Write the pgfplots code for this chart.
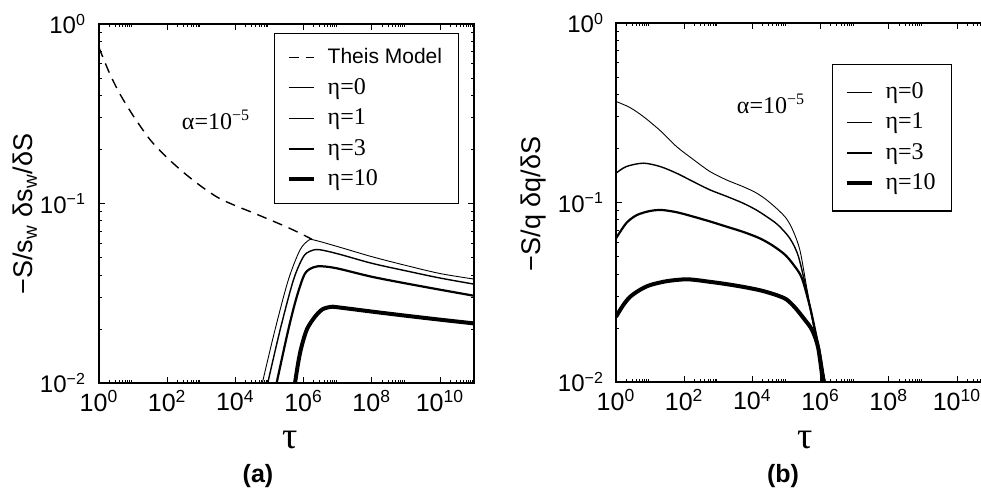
\documentclass[border=0pt]{standalone}
\usepackage{fontspec}
\setmainfont{Liberation Sans}
\newfontfamily\serif{Liberation Serif}
\usepackage{pgfplots}
\pgfplotsset{compat=1.18}

\tikzset{
  th/.style={black, line width=0.7pt, dash pattern=on 5pt off 3.5pt, smooth},
  e0/.style={black, line width=0.45pt, smooth},
  e1/.style={black, line width=0.7pt, smooth},
  e3/.style={black, line width=1.1pt, smooth},
  e10/.style={black, line width=2pt, smooth},
}
\newcommand{\etaent}[1]{\serif\fontsize{12}{13}\selectfont η=#1}

\begin{document}
\begin{tikzpicture}
% ---------- panel (a)
\begin{axis}[
    xmode=log, ymode=log,
    scale only axis, width=187.5pt, height=179.5pt,
    at={(49.5pt,55.5pt)}, anchor=south west,
    xmin=1, xmax=1e11, ymin=0.01, ymax=1,
    xtick={1,1e2,1e4,1e6,1e8,1e10},
    xticklabels={10\textsuperscript{0},10\textsuperscript{2},10\textsuperscript{4},
      10\textsuperscript{6},10\textsuperscript{8},10\textsuperscript{10}},
    minor xtick={2,3,4,5,6,7,8,9,200,300,400,500,600,700,800,900,
      2e4,3e4,4e4,5e4,6e4,7e4,8e4,9e4,2e6,3e6,4e6,5e6,6e6,7e6,8e6,9e6,
      2e8,3e8,4e8,5e8,6e8,7e8,8e8,9e8,2e10,3e10,4e10,5e10,6e10,7e10,8e10,9e10},
    ytick={0.01,0.1,1},
    yticklabels={10\textsuperscript{−2},10\textsuperscript{−1},10\textsuperscript{0}},
    minor ytick={0.02,0.03,0.04,0.05,0.06,0.07,0.08,0.09,0.2,0.3,0.4,0.5,0.6,0.7,0.8,0.9},
    tick style={black, line width=0.4pt},
    major tick length=3pt, minor tick length=1.5pt,
    axis line style={line width=0.6pt},
    ticklabel style={font=\fontsize{12}{14}\selectfont},
    xticklabel style={font=\fontsize{12.5}{14}\selectfont},
    yticklabel style={xshift=-3pt},
    legend cell align=left,
    legend image code/.code={\draw[#1] (0pt,0pt) -- (12.5pt,0pt);},
    legend style={font=\fontsize{10.5}{12}\selectfont, draw=black, line width=0.6pt,
      inner xsep=6pt, inner ysep=5.5pt, row sep=1.8pt, column sep=4pt,
      at={(0.467,0.975)}, anchor=north west},
  ]
  \addplot[th] coordinates {
    (1,0.738) (1.995,0.537) (3.981,0.412) (10,0.309) (31.62,0.2265)
    (100,0.1799) (316.2,0.1479) (1000,0.1245) (3162,0.1076) (10000,0.0973)
    (31620,0.0891) (100000,0.0813) (316200,0.0741) (1e6,0.0668) (1.778e6,0.0631)
  };
  \addlegendentry{Theis Model}
  \addplot[e0] coordinates {
    (50120,0.00851) (61660,0.01) (144500,0.01968) (354800,0.03733)
    (776200,0.05483) (1.380e6,0.06223) (1.995e6,0.06266) (1e7,0.05754)
    (1e8,0.05058) (1e9,0.04519) (1e10,0.04074) (1e11,0.03793)
  };
  \addlegendentry{\etaent{0}}
  \addplot[e1] coordinates {
    (74130,0.00851) (89130,0.01) (204200,0.01968) (501200,0.03733)
    (977200,0.05035) (1.585e6,0.05433) (2.818e6,0.05534) (1e7,0.05248)
    (1e8,0.04645) (1e9,0.04217) (1e10,0.03846) (1e11,0.03556)
  };
  \addlegendentry{\etaent{1}}
  \addplot[e3] coordinates {
    (131800,0.00832) (162200,0.01) (354800,0.01968) (631000,0.0302)
    (1.096e6,0.04064) (1.995e6,0.04416) (3.548e6,0.04467) (1e7,0.04345)
    (1e8,0.03908) (1e9,0.03589) (1e10,0.03311) (1e11,0.03062)
  };
  \addlegendentry{\etaent{3}}
  \addplot[e10] coordinates {
    (512900,0.00871) (562300,0.01) (707900,0.01318) (871000,0.01592)
    (1.259e6,0.01995) (2.138e6,0.02333) (3.548e6,0.0257) (6.310e6,0.02655)
    (1e7,0.02642) (1e8,0.025) (1e9,0.02371) (1e10,0.02254) (1e11,0.02148)
  };
  \addlegendentry{\etaent{10}}
\end{axis}
% ---------- panel (b)
\begin{axis}[
    xmode=log, ymode=log,
    scale only axis, width=187.5pt, height=179.5pt,
    at={(308pt,56pt)}, anchor=south west,
    xmin=1, xmax=1e11, ymin=0.01, ymax=1,
    xtick={1,1e2,1e4,1e6,1e8,1e10},
    xticklabels={10\textsuperscript{0},10\textsuperscript{2},10\textsuperscript{4},
      10\textsuperscript{6},10\textsuperscript{8},10\textsuperscript{10}},
    minor xtick={2,3,4,5,6,7,8,9,200,300,400,500,600,700,800,900,
      2e4,3e4,4e4,5e4,6e4,7e4,8e4,9e4,2e6,3e6,4e6,5e6,6e6,7e6,8e6,9e6,
      2e8,3e8,4e8,5e8,6e8,7e8,8e8,9e8,2e10,3e10,4e10,5e10,6e10,7e10,8e10,9e10},
    ytick={0.01,0.1,1},
    yticklabels={10\textsuperscript{−2},10\textsuperscript{−1},10\textsuperscript{0}},
    minor ytick={0.02,0.03,0.04,0.05,0.06,0.07,0.08,0.09,0.2,0.3,0.4,0.5,0.6,0.7,0.8,0.9},
    tick style={black, line width=0.4pt},
    major tick length=3pt, minor tick length=1.5pt,
    axis line style={line width=0.6pt},
    ticklabel style={font=\fontsize{12}{14}\selectfont},
    xticklabel style={font=\fontsize{12.5}{14}\selectfont},
    yticklabel style={xshift=-2.5pt},
    legend cell align=left,
    legend image code/.code={\draw[#1] (0pt,0pt) -- (12.5pt,0pt);},
    legend style={font=\fontsize{10.5}{12}\selectfont, draw=black, line width=0.6pt,
      inner xsep=6pt, inner ysep=7pt, row sep=1.8pt, column sep=4pt,
      at={(0.576,0.886)}, anchor=north west},
  ]
  \addplot[e0] coordinates {
    (1,0.3656) (2.512,0.3388) (6.310,0.3013) (19.95,0.2512) (60.26,0.2046)
    (199.5,0.1718) (575.4,0.1486) (1778,0.1334) (5370,0.1225) (12590,0.1135)
    (26300,0.1033) (56230,0.0912) (100000,0.0813) (158500,0.0692)
    (251200,0.0537) (398100,0.0331) (631000,0.0209) (1e6,0.01349)
    (1.380e6,0.01) (1.585e6,0.00871)
  };
  \addlegendentry{\etaent{0}}
  \addplot[e1] coordinates {
    (1,0.1455) (1.995,0.1585) (6.310,0.1656) (19.95,0.1585) (60.26,0.1455)
    (199.5,0.1297) (575.4,0.1175) (1778,0.1081) (5370,0.0991) (12590,0.0912)
    (26300,0.0834) (56230,0.075) (125900,0.0631) (223900,0.0501)
    (398100,0.0316) (631000,0.0204) (1e6,0.01318) (1.349e6,0.01) (1.585e6,0.00851)
  };
  \addlegendentry{\etaent{1}}
  \addplot[e3] coordinates {
    (1,0.0631) (1.995,0.0767) (4.074,0.0851) (10,0.0897) (22.39,0.0908)
    (63.1,0.0881) (186.2,0.0834) (562.3,0.0785) (1778,0.0733) (5623,0.0684)
    (16600,0.0631) (39810,0.0575) (89130,0.0513) (158500,0.0452)
    (281800,0.038) (489800,0.0262) (707900,0.01905) (1e6,0.0138)
    (1.318e6,0.01) (1.514e6,0.00851)
  };
  \addlegendentry{\etaent{3}}
  \addplot[e10] coordinates {
    (1,0.02307) (1.585,0.0266) (2.570,0.02979) (5.012,0.03258) (10,0.03467)
    (31.62,0.03648) (125.9,0.03733) (575.4,0.03614) (1778,0.03508)
    (5370,0.03388) (17780,0.03236) (51290,0.03048) (100000,0.02884)
    (177800,0.02600) (316200,0.02270) (562300,0.01950) (851100,0.01550)
    (1.175e6,0.01) (1.318e6,0.00851)
  };
  \addlegendentry{\etaent{10}}
\end{axis}
% ---------- labels
\node[rotate=90, font=\fontsize{13.5}{16}\selectfont] at (12.5pt,140pt)
  {−S/s\textsubscript{w} δs\textsubscript{w}/δS};
\node[rotate=90, font=\fontsize{13.5}{16}\selectfont] at (267pt,145pt)
  {−S/q δq/δS};
\node[font=\serif\fontsize{19}{21}\selectfont] at (145pt,27pt) {τ};
\node[font=\serif\fontsize{19}{21}\selectfont] at (402.5pt,27pt) {τ};
\node[font=\bfseries\fontsize{12.5}{14}\selectfont] at (129pt,9pt) {(a)};
\node[font=\bfseries\fontsize{12.5}{14}\selectfont] at (391.5pt,9pt) {(b)};
\node[font=\serif\fontsize{12}{14}\selectfont] at (108pt,187pt) {α=10\textsuperscript{−5}};
\node[font=\serif\fontsize{12}{14}\selectfont] at (385.5pt,195pt) {α=10\textsuperscript{−5}};
\pgfresetboundingbox
\path[use as bounding box] (0,0) rectangle (490.5pt,247pt);
\end{tikzpicture}
\end{document}
